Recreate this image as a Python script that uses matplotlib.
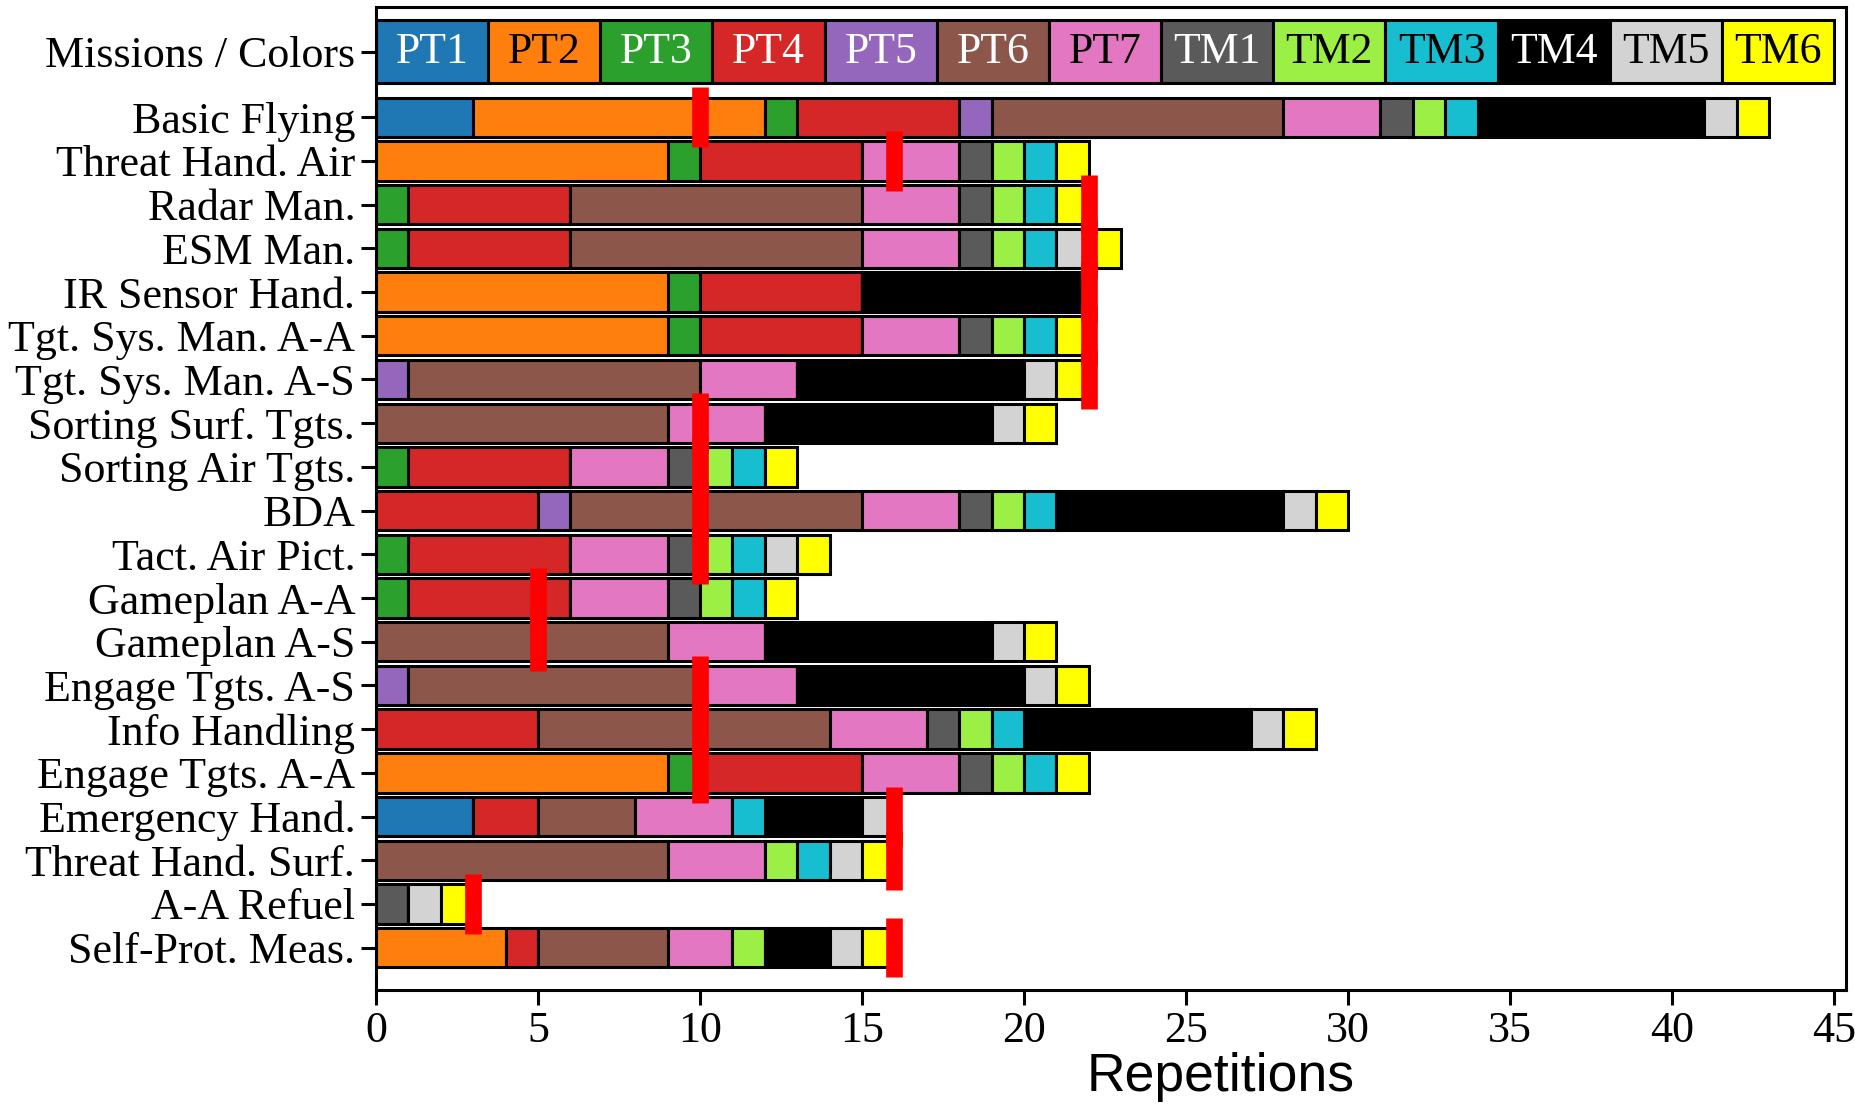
import numpy as np
import matplotlib
matplotlib.use("Agg")
import matplotlib.pyplot as plt

plt.rcParams['font.family'] = ['Liberation Serif', 'DejaVu Serif']

missions = ["Basic Flying", "Threat Hand. Air", "Radar Man.", "ESM Man.",
            "IR Sensor Hand.", "Tgt. Sys. Man. A-A", "Tgt. Sys. Man. A-S",
            "Sorting Surf. Tgts.", "Sorting Air Tgts.", "BDA", "Tact. Air Pict.",
            "Gameplan A-A", "Gameplan A-S", "Engage Tgts. A-S", "Info Handling",
            "Engage Tgts. A-A", "Emergency Hand.", "Threat Hand. Surf.",
            "A-A Refuel", "Self-Prot. Meas."]

types = ["PT1", "PT2", "PT3", "PT4", "PT5", "PT6", "PT7",
         "TM1", "TM2", "TM3", "TM4", "TM5", "TM6"]
colors = ["#1f77b4", "#ff7f0e", "#2ca02c", "#d62728", "#9467bd", "#8c564b", "#e377c2",
          "#5a5a5a", "#9bef45", "#17becf", "#000000", "#d3d3d3", "#ffff00"]
text_colors = ["white", "black", "white", "white", "white", "white", "black",
               "white", "black", "black", "white", "black", "black"]

# repetitions per mission (same order as missions)
pt1 = [3, 0, 0, 0, 0, 0, 0, 0, 0, 0, 0, 0, 0, 0, 0, 0, 3, 0, 0, 0]
pt2 = [9, 9, 0, 0, 9, 9, 0, 0, 0, 0, 0, 0, 0, 0, 0, 9, 0, 0, 0, 4]
pt3 = [1, 1, 1, 1, 1, 1, 0, 0, 1, 0, 1, 1, 0, 0, 0, 1, 0, 0, 0, 0]
pt4 = [5, 5, 5, 5, 5, 5, 0, 0, 5, 5, 5, 5, 0, 0, 5, 5, 2, 0, 0, 1]
pt5 = [1, 0, 0, 0, 0, 0, 1, 0, 0, 1, 0, 0, 0, 1, 0, 0, 0, 0, 0, 0]
pt6 = [9, 0, 9, 9, 0, 0, 9, 9, 0, 9, 0, 0, 9, 9, 9, 0, 3, 9, 0, 4]
pt7 = [3, 3, 3, 3, 0, 3, 3, 3, 3, 3, 3, 3, 3, 3, 3, 3, 3, 3, 0, 2]
tm1 = [1, 1, 1, 1, 0, 1, 0, 0, 1, 1, 1, 1, 0, 0, 1, 1, 0, 0, 1, 0]
tm2 = [1, 1, 1, 1, 0, 1, 0, 0, 1, 1, 1, 1, 0, 0, 1, 1, 0, 1, 0, 1]
tm3 = [1, 1, 1, 1, 0, 1, 0, 0, 1, 1, 1, 1, 0, 0, 1, 1, 1, 1, 0, 0]
tm4 = [7, 0, 0, 0, 7, 0, 7, 7, 0, 7, 0, 0, 7, 7, 7, 0, 3, 0, 0, 2]
tm5 = [1, 0, 0, 1, 0, 0, 1, 1, 0, 1, 1, 0, 1, 1, 1, 0, 1, 1, 1, 1]
tm6 = [1, 1, 1, 1, 0, 1, 1, 1, 1, 1, 1, 1, 1, 1, 1, 1, 0, 1, 1, 1]

# red marks per mission
required = [10, 16, 22, 22, 22, 22, 22, 10, 10, 10, 10, 5, 5, 10, 10, 10, 16, 16, 3, 16]

series = [pt1, pt2, pt3, pt4, pt5, pt6, pt7, tm1, tm2, tm3, tm4, tm5, tm6]

fig = plt.figure(figsize=(18.55, 11.05), dpi=100)
ax = fig.add_axes([0.2027, 0.104, 0.7923, 0.890])

y = np.arange(len(missions))
left = np.zeros(len(missions))
for vals, c in zip(series, colors):
    vals = np.array(vals)
    ax.barh(y, vals, left=left, height=0.9, color=c, edgecolor='black', linewidth=2.2)
    left += vals

# colour key row
key_w = 45 / len(types)
key_y = -1.5
for i, (t, c, tc) in enumerate(zip(types, colors, text_colors)):
    ax.barh(key_y, key_w, left=i * key_w, height=1.45, color=c,
            edgecolor='black', linewidth=2.2)
    ax.text(i * key_w + key_w / 2, key_y, t, ha='center', va='center',
            fontsize=31.5, color=tc)

ax.vlines(required, y - 0.68, y + 0.68, colors='red', linewidth=12, zorder=5)

ax.set_xlim(0, 45.36)
ax.set_ylim(19.97, -2.53)
ax.set_yticks([key_y] + list(y))
ax.set_yticklabels(["Missions / Colors"] + missions)
ax.set_xticks(np.arange(0, 46, 5))
ax.tick_params(axis='both', labelsize=31.7, length=11, width=2.2, pad=4)
ax.set_xlabel("Repetitions", fontsize=38.5, fontfamily='Liberation Sans')
ax.xaxis.set_label_coords(0.575, -0.063)
for s in ax.spines.values():
    s.set_linewidth(2.2)

plt.savefig("out.png", dpi=100)
